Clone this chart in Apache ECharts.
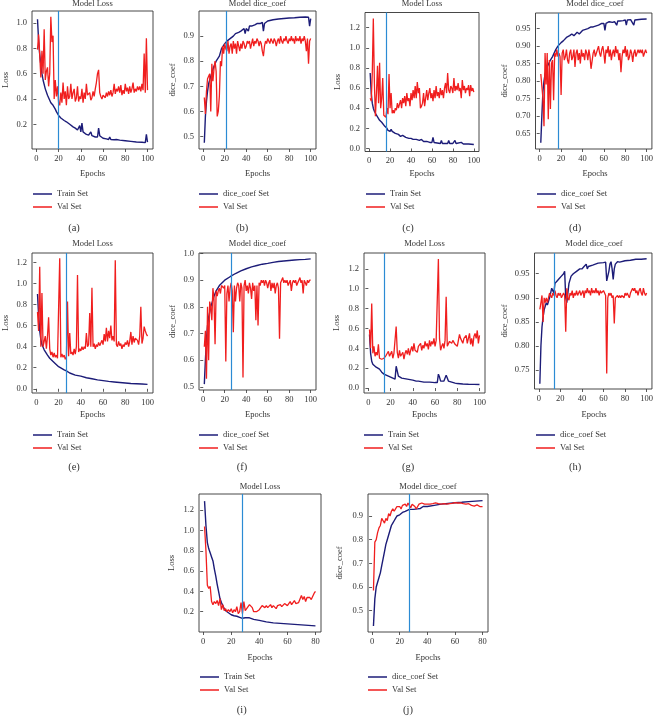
<!DOCTYPE html>
<html><head><meta charset="utf-8">
<script src="https://cdn.jsdelivr.net/npm/echarts@6/dist/echarts.min.js"></script>
<style>html,body{margin:0;padding:0;background:#fff}#c{width:656px;height:716px}</style>
</head><body><div id="c"></div>
<script>
// ---------- DATA ----------
const trainA = [[1,1.03],[2,0.86],[3,0.75],[4,0.67],[5,0.6],[6,0.55],[8,0.48],[10,0.43],[12,0.39],[13,0.37],[15,0.35],[17,0.32],[18,0.3],[20,0.27],[22,0.25],[25,0.23],[27,0.22],[28,0.21],[30,0.2],[33,0.18],[35,0.17],[37,0.155],[38,0.15],[39,0.19],[40,0.14],[41,0.21],[42,0.14],[43,0.13],[45,0.12],[47,0.115],[48,0.11],[49,0.14],[50,0.11],[53,0.1],[55,0.1],[56,0.17],[57,0.11],[58,0.1],[60,0.09],[63,0.085],[65,0.08],[66,0.1],[67,0.08],[70,0.078],[72,0.08],[75,0.075],[80,0.07],[85,0.065],[90,0.06],[95,0.058],[98,0.055],[99,0.12],[100,0.06]];
const valA = [0.79,0.91,0.75,0.57,0.78,0.6,0.95,0.55,0.62,0.65,
0.5,0.6,1.05,0.85,0.9,0.4,0.55,0.42,0.5,0.37,
0.35,0.45,0.37,0.53,0.4,0.46,0.35,0.5,0.4,0.42,
0.52,0.4,0.45,0.48,0.38,0.41,0.5,0.38,0.42,0.4,
0.48,0.37,0.45,0.4,0.52,0.43,0.42,0.45,0.39,0.41,
0.46,0.42,0.48,0.53,0.6,0.63,0.45,0.42,0.4,0.43,
0.44,0.41,0.45,0.42,0.46,0.43,0.47,0.42,0.45,0.52,
0.44,0.48,0.46,0.5,0.45,0.51,0.43,0.47,0.44,0.52,
0.46,0.49,0.44,0.5,0.45,0.48,0.53,0.45,0.48,0.46,
0.5,0.47,0.5,0.46,0.52,0.47,0.76,0.45,0.88,0.47];

const trainB = [[1,0.475],[2,0.58],[3,0.64],[4,0.68],[5,0.71],[7,0.74],[10,0.78],[12,0.8],[15,0.82],[17,0.85],[20,0.87],[22,0.88],[25,0.89],[28,0.9],[30,0.91],[33,0.915],[35,0.92],[38,0.93],[39,0.91],[40,0.93],[42,0.92],[43,0.94],[45,0.94],[48,0.945],[50,0.95],[53,0.95],[55,0.955],[56,0.92],[57,0.95],[60,0.96],[65,0.965],[70,0.968],[75,0.97],[80,0.972],[85,0.973],[90,0.975],[95,0.976],[98,0.975],[99,0.94],[100,0.97]];
const valB = [0.655,0.59,0.68,0.73,0.74,0.75,0.6,0.79,0.72,0.77,
0.8,0.76,0.58,0.6,0.66,0.8,0.78,0.86,0.83,0.87,
0.85,0.84,0.88,0.83,0.86,0.87,0.83,0.88,0.85,0.87,
0.83,0.88,0.86,0.84,0.87,0.85,0.88,0.87,0.85,0.86,
0.88,0.87,0.88,0.85,0.87,0.89,0.86,0.88,0.87,0.89,
0.88,0.86,0.88,0.87,0.84,0.82,0.86,0.88,0.87,0.89,
0.88,0.87,0.89,0.88,0.87,0.89,0.88,0.86,0.88,0.89,
0.87,0.9,0.88,0.87,0.89,0.88,0.9,0.88,0.87,0.89,
0.88,0.9,0.88,0.89,0.87,0.9,0.88,0.89,0.88,0.9,
0.87,0.89,0.88,0.9,0.88,0.84,0.89,0.79,0.88,0.89];

const trainC = [[1,0.75],[2,0.55],[3,0.45],[4,0.4],[5,0.37],[7,0.33],[10,0.28],[12,0.26],[15,0.22],[17,0.2],[18,0.18],[20,0.17],[21,0.19],[22,0.17],[25,0.15],[28,0.14],[30,0.12],[32,0.13],[35,0.11],[38,0.1],[40,0.1],[42,0.09],[45,0.09],[48,0.08],[50,0.09],[52,0.07],[55,0.07],[58,0.06],[60,0.06],[61,0.11],[62,0.06],[65,0.055],[68,0.05],[69,0.08],[70,0.05],[75,0.05],[76,0.08],[77,0.05],[80,0.05],[82,0.08],[83,0.05],[88,0.06],[90,0.045],[95,0.045],[100,0.04]];
const valC = [0.5,0.47,0.75,1.29,0.65,0.32,0.55,0.82,0.45,0.85,
0.4,0.5,0.7,0.33,0.32,0.31,0.4,0.34,0.74,0.4,
0.55,0.35,0.38,0.35,0.4,0.38,0.45,0.4,0.44,0.48,
0.4,0.5,0.45,0.52,0.42,0.55,0.47,0.5,0.42,0.55,
0.48,0.58,0.5,0.62,0.5,0.66,0.55,0.6,0.4,0.42,
0.45,0.55,0.42,0.5,0.58,0.48,0.55,0.6,0.5,0.55,
0.47,0.58,0.5,0.62,0.52,0.56,0.5,0.6,0.53,0.58,
0.5,0.6,0.65,0.55,0.75,0.58,0.55,0.62,0.6,0.55,
0.7,0.57,0.62,0.58,0.65,0.57,0.6,0.5,0.68,0.58,
0.62,0.55,0.6,0.58,0.63,0.52,0.63,0.57,0.6,0.56];

const trainD = [[1,0.623],[2,0.7],[3,0.77],[4,0.8],[5,0.82],[7,0.84],[10,0.86],[12,0.87],[15,0.89],[17,0.9],[20,0.91],[22,0.915],[23,0.91],[25,0.925],[28,0.93],[30,0.935],[32,0.93],[35,0.94],[37,0.935],[40,0.945],[45,0.95],[48,0.955],[50,0.955],[55,0.96],[58,0.965],[60,0.965],[61,0.945],[62,0.965],[65,0.97],[68,0.968],[70,0.97],[72,0.96],[73,0.972],[75,0.972],[78,0.973],[80,0.975],[81,0.96],[82,0.975],[85,0.976],[88,0.96],[89,0.975],[90,0.976],[95,0.977],[100,0.978]];
const valD = [0.82,0.82,0.75,0.67,0.88,0.79,0.88,0.69,0.86,0.72,
0.85,0.86,0.745,0.88,0.87,0.89,0.87,0.88,0.87,0.76,
0.88,0.89,0.86,0.87,0.89,0.86,0.85,0.88,0.89,0.86,
0.87,0.89,0.84,0.88,0.89,0.86,0.88,0.85,0.89,0.87,
0.88,0.86,0.89,0.88,0.86,0.89,0.87,0.835,0.84,0.88,
0.89,0.87,0.88,0.89,0.9,0.88,0.87,0.89,0.9,0.88,
0.85,0.89,0.88,0.9,0.87,0.89,0.86,0.88,0.89,0.87,
0.9,0.88,0.89,0.86,0.88,0.825,0.87,0.89,0.88,0.9,
0.87,0.89,0.86,0.87,0.89,0.88,0.855,0.88,0.89,0.87,
0.88,0.89,0.88,0.89,0.88,0.89,0.87,0.88,0.89,0.88];

const trainE = [[1,0.9],[2,0.7],[3,0.55],[4,0.47],[5,0.42],[7,0.37],[10,0.32],[12,0.29],[15,0.26],[20,0.21],[25,0.18],[27,0.17],[30,0.15],[35,0.13],[40,0.12],[45,0.105],[50,0.095],[55,0.085],[60,0.078],[65,0.07],[70,0.065],[75,0.06],[80,0.055],[85,0.05],[90,0.048],[95,0.045],[100,0.042]];
const valE = [0.73,0.55,1.16,0.4,0.91,0.4,0.45,0.5,0.38,0.5,
0.68,0.38,0.32,0.35,0.3,0.34,0.3,0.32,0.29,0.3,
1.24,0.3,0.33,0.3,0.32,0.28,0.3,0.83,0.31,0.53,
0.33,0.35,0.32,0.38,0.33,0.4,1.08,0.35,0.38,0.36,
0.4,0.37,0.4,0.38,0.53,0.4,0.42,0.72,0.4,0.96,
0.4,0.43,0.38,0.42,0.4,0.44,0.41,0.4,0.46,0.42,
0.52,0.45,0.58,0.45,0.55,0.48,0.6,0.46,0.5,0.45,
1.22,0.42,0.4,0.45,0.41,0.43,0.38,0.42,0.4,0.44,
0.42,0.46,0.4,0.45,0.54,0.42,0.5,0.44,0.48,0.47,
0.46,0.42,0.5,0.78,0.43,0.48,0.59,0.55,0.52,0.5];

const trainF = [[1,0.51],[2,0.6],[3,0.68],[4,0.73],[5,0.76],[7,0.8],[10,0.84],[12,0.86],[15,0.88],[20,0.9],[25,0.913],[30,0.925],[35,0.935],[40,0.943],[45,0.95],[50,0.955],[55,0.96],[60,0.963],[65,0.967],[70,0.97],[75,0.972],[80,0.974],[85,0.976],[90,0.977],[95,0.978],[100,0.98]];
const valF = [0.65,0.71,0.53,0.8,0.6,0.82,0.8,0.75,0.87,0.83,
0.66,0.86,0.84,0.86,0.87,0.85,0.88,0.88,0.87,0.88,
0.595,0.85,0.88,0.82,0.87,0.89,0.86,0.705,0.88,0.82,
0.87,0.89,0.88,0.82,0.89,0.87,0.535,0.88,0.9,0.86,
0.88,0.85,0.89,0.87,0.83,0.89,0.86,0.88,0.75,0.88,
0.73,0.89,0.88,0.9,0.89,0.9,0.88,0.9,0.89,0.87,
0.89,0.9,0.86,0.89,0.87,0.89,0.85,0.88,0.89,0.87,
0.68,0.89,0.9,0.91,0.89,0.9,0.89,0.9,0.88,0.89,
0.9,0.86,0.89,0.9,0.89,0.9,0.88,0.89,0.9,0.91,
0.89,0.9,0.85,0.9,0.89,0.88,0.9,0.89,0.9,0.9];

const trainG = [[1,0.54],[2,0.35],[3,0.27],[4,0.24],[5,0.22],[7,0.21],[8,0.22],[10,0.19],[12,0.16],[14,0.14],[16,0.13],[18,0.12],[20,0.11],[22,0.1],[24,0.09],[25,0.22],[26,0.17],[27,0.12],[30,0.1],[35,0.09],[40,0.08],[43,0.07],[44,0.09],[45,0.07],[50,0.06],[55,0.06],[60,0.055],[62,0.055],[63,0.14],[64,0.11],[65,0.07],[68,0.07],[70,0.13],[71,0.1],[72,0.07],[75,0.06],[76,0.07],[78,0.05],[80,0.045],[85,0.04],[90,0.038],[95,0.037],[100,0.035]];
const valG = [0.59,0.4,0.85,0.35,0.42,0.32,0.36,0.33,0.44,0.3,
0.28,0.29,0.28,0.3,0.29,0.33,0.31,0.37,0.32,0.33,
0.37,0.3,0.35,0.36,0.62,0.36,0.3,0.38,0.32,0.31,
0.36,0.29,0.35,0.38,0.34,0.4,0.33,0.38,0.42,0.37,
0.45,0.38,0.4,0.36,0.42,0.4,0.45,0.38,0.43,0.4,
0.47,0.42,0.45,0.39,0.48,0.42,0.47,0.44,0.5,0.42,
0.48,0.5,1.3,0.5,0.38,0.42,0.45,0.4,0.48,0.92,
0.42,0.4,0.47,0.48,0.45,0.48,0.46,0.44,0.45,0.42,
0.48,0.54,0.5,0.52,0.45,0.5,0.48,0.53,0.45,0.5,
0.55,0.44,0.5,0.42,0.52,0.55,0.5,0.58,0.45,0.53];

const trainH = [[1,0.722],[2,0.8],[3,0.84],[4,0.86],[5,0.875],[7,0.89],[8,0.885],[10,0.9],[11,0.91],[12,0.92],[13,0.915],[14,0.91],[15,0.93],[17,0.935],[19,0.94],[20,0.94],[21,0.945],[23,0.95],[24,0.955],[25,0.9],[26,0.89],[27,0.91],[28,0.93],[30,0.945],[32,0.95],[35,0.955],[38,0.96],[40,0.96],[42,0.965],[44,0.97],[45,0.96],[46,0.965],[50,0.968],[55,0.972],[60,0.973],[62,0.974],[63,0.935],[64,0.935],[65,0.955],[66,0.97],[67,0.975],[68,0.96],[69,0.938],[70,0.96],[71,0.97],[73,0.975],[75,0.974],[80,0.977],[85,0.978],[90,0.98],[95,0.98],[100,0.981]];
const valH = [0.876,0.89,0.905,0.85,0.9,0.89,0.9,0.89,0.9,0.91,
0.905,0.9,0.91,0.905,0.915,0.905,0.9,0.91,0.905,0.91,
0.9,0.905,0.91,0.905,0.83,0.92,0.9,0.895,0.91,0.905,
0.915,0.9,0.91,0.905,0.915,0.905,0.91,0.915,0.905,0.91,
0.915,0.9,0.915,0.91,0.92,0.91,0.915,0.905,0.92,0.91,
0.915,0.91,0.92,0.91,0.915,0.905,0.915,0.91,0.91,0.915,
0.91,0.905,0.743,0.9,0.91,0.905,0.91,0.9,0.905,0.847,
0.9,0.9,0.905,0.9,0.905,0.9,0.905,0.905,0.9,0.91,
0.905,0.91,0.905,0.9,0.91,0.915,0.92,0.915,0.92,0.91,
0.915,0.905,0.915,0.92,0.91,0.905,0.92,0.91,0.905,0.91];

const trainI = [[1,1.29],[2,1.05],[3,0.88],[4,0.82],[5,0.78],[6,0.74],[7,0.7],[8,0.62],[9,0.55],[10,0.47],[11,0.4],[12,0.33],[13,0.29],[14,0.26],[15,0.23],[16,0.21],[18,0.19],[20,0.17],[22,0.16],[24,0.155],[26,0.145],[28,0.135],[30,0.14],[31,0.13],[33,0.14],[34,0.14],[36,0.125],[38,0.12],[40,0.115],[45,0.1],[50,0.09],[55,0.085],[60,0.08],[65,0.075],[70,0.07],[75,0.065],[80,0.06]];
const valI = [1.04,0.8,0.46,0.43,0.45,0.3,0.27,0.3,0.28,0.31,
0.26,0.33,0.22,0.27,0.21,0.23,0.2,0.22,0.2,0.23,
0.19,0.22,0.2,0.25,0.18,0.2,0.29,0.18,0.3,0.21,
0.22,0.25,0.27,0.28,0.24,0.2,0.19,0.2,0.21,0.22,
0.24,0.26,0.25,0.24,0.26,0.24,0.25,0.27,0.24,0.26,
0.25,0.23,0.26,0.25,0.27,0.25,0.26,0.28,0.27,0.26,
0.28,0.3,0.27,0.29,0.31,0.28,0.27,0.29,0.3,0.36,
0.32,0.35,0.3,0.34,0.33,0.34,0.32,0.33,0.38,0.4];

const trainJ = [[1,0.435],[2,0.55],[3,0.6],[4,0.62],[5,0.64],[6,0.66],[7,0.69],[8,0.72],[9,0.75],[10,0.78],[11,0.8],[12,0.82],[13,0.84],[14,0.86],[15,0.87],[16,0.88],[17,0.89],[18,0.9],[20,0.905],[22,0.915],[24,0.92],[25,0.925],[27,0.928],[30,0.928],[33,0.93],[35,0.932],[37,0.94],[40,0.94],[45,0.945],[50,0.95],[55,0.953],[60,0.956],[65,0.958],[70,0.961],[75,0.963],[80,0.965]];
const valJ = [0.585,0.79,0.8,0.83,0.85,0.86,0.89,0.88,0.87,0.89,
0.88,0.91,0.9,0.92,0.93,0.92,0.93,0.94,0.935,0.94,
0.93,0.945,0.94,0.95,0.94,0.955,0.945,0.935,0.95,0.945,
0.94,0.93,0.94,0.95,0.955,0.955,0.952,0.95,0.945,0.95,
0.945,0.95,0.948,0.952,0.95,0.955,0.95,0.952,0.955,0.95,
0.955,0.952,0.955,0.95,0.958,0.952,0.955,0.953,0.955,0.957,
0.952,0.955,0.95,0.955,0.958,0.952,0.955,0.95,0.947,0.952,
0.948,0.945,0.95,0.942,0.945,0.947,0.943,0.94,0.945,0.94];

// best-epoch markers (vertical lines)
const bestEpochs = [20, 21, 16, 17, 27, 26, 14, 14, 28, 27];
// tick labels
const xTicks100 = [0, 20, 40, 60, 80, 100];
const xTicks80 = [0, 20, 40, 60, 80];
const yTicksA = [0.2, 0.4, 0.6, 0.8, 1.0];
const yTicksB = [0.5, 0.6, 0.7, 0.8, 0.9];
const yTicksC = [0.0, 0.2, 0.4, 0.6, 0.8, 1.0, 1.2];
const yTicksD = [0.65, 0.70, 0.75, 0.80, 0.85, 0.90, 0.95];
const yTicksE = [0.0, 0.2, 0.4, 0.6, 0.8, 1.0, 1.2];
const yTicksF = [0.5, 0.6, 0.7, 0.8, 0.9, 1.0];
const yTicksG = [0.0, 0.2, 0.4, 0.6, 0.8, 1.0, 1.2];
const yTicksH = [0.75, 0.80, 0.85, 0.90, 0.95];
const yTicksI = [0.2, 0.4, 0.6, 0.8, 1.0, 1.2];
const yTicksJ = [0.5, 0.6, 0.7, 0.8, 0.9];
const subLabels = ['(a)','(b)','(c)','(d)','(e)','(f)','(g)','(h)','(i)','(j)'];

// ---------- PANEL SPEC ----------
const LOSS = {title:'Model Loss', yName:'Loss', names:['Train Set','Val Set']};
const DICE = {title:'Model dice_coef', yName:'dice_coef', names:['dice_coef Set','Val Set']};
const panels = [
 {kind:LOSS, train:trainA, val:valA, yT:yTicksA, dec:1, yr:[0.005,1.095], xT:xTicks100, xr:[-3.95,104.95], g:[32,11,121,138], yn:5.5, sub:74, row:0, lg:33},
 {kind:DICE, train:trainB, val:valB, yT:yTicksB, dec:1, yr:[0.45,1.0], xT:xTicks100, xr:[-3.95,104.95], g:[199,11,117,138], yn:173, sub:242, row:0, lg:199},
 {kind:LOSS, train:trainC, val:valC, yT:yTicksC, dec:1, yr:[-0.03,1.35], xT:xTicks100, xr:[-3.95,104.95], g:[365,12.5,114,139], yn:337.5, sub:408, row:0, lg:366},
 {kind:DICE, train:trainD, val:valD, yT:yTicksD, dec:2, yr:[0.605,0.995], xT:xTicks100, xr:[-3.95,104.95], g:[535.5,13,119,136], yn:505, sub:575, row:0, lg:537},
 {kind:LOSS, train:trainE, val:valE, yT:yTicksE, dec:1, yr:[-0.04,1.29], xT:xTicks100, xr:[-3.95,104.95], g:[32,253,121,140], yn:5.5, sub:74, row:1, lg:33},
 {kind:DICE, train:trainF, val:valF, yT:yTicksF, dec:1, yr:[0.488,1.002], xT:xTicks100, xr:[-3.95,104.95], g:[199,253,117,137], yn:173, sub:242, row:1, lg:199},
 {kind:LOSS, train:trainG, val:valG, yT:yTicksG, dec:1, yr:[-0.05,1.36], xT:xTicks100, xr:[-3.95,104.95], g:[364,253,121,140], yn:337, sub:408, row:1, lg:364},
 {kind:DICE, train:trainH, val:valH, yT:yTicksH, dec:2, yr:[0.711,0.993], xT:xTicks100, xr:[-3.95,104.95], g:[534.5,253,119,136], yn:505, sub:575, row:1, lg:536},
 {kind:LOSS, train:trainI, val:valI, yT:yTicksI, dec:1, yr:[0.0,1.36], xT:xTicks80, xr:[-2.95,83.95], g:[199,494,122,138], yn:171.7, sub:241.7, row:2, lg:200},
 {kind:DICE, train:trainJ, val:valJ, yT:yTicksJ, dec:1, yr:[0.41,0.993], xT:xTicks80, xr:[-2.95,83.95], g:[368,494,120,138], yn:340, sub:408, row:2, lg:368}
];
const rows = [
 {title:3.5, epochs:174, leg:194, sub:228},
 {title:244, epochs:415, leg:435, sub:467},
 {title:487, epochs:658, leg:677, sub:710}
];

const FONT = '"Liberation Serif","DejaVu Serif",serif';
const TXT = '#333';
const NAVY = '#1c1c78';
const RED = '#f01e1e';
const VLINE = '#2b8bd4';

const grid = [], xAxis = [], yAxis = [], series = [], legend = [], graphic = [];
function txt(x, y, s, size, rot) {
  graphic.push({type:'text', x:x, y:y, rotation: rot || 0, silent:true,
    style:{text:s, fill:TXT, font: size + 'px ' + FONT, textAlign:'center', textVerticalAlign:'middle', align:'center', verticalAlign:'middle'}});
}
panels.forEach((p, i) => {
  const [l, t, w, h] = p.g;
  const r = rows[p.row];
  grid.push({left:l, top:t, width:w, height:h, show:true, borderColor:'#333', borderWidth:0.9, backgroundColor:'transparent'});
  xAxis.push({type:'value', gridIndex:i, min:p.xr[0], max:p.xr[1],
    axisLine:{show:false}, splitLine:{show:false},
    axisTick:{show:true, length:3, customValues:p.xT, lineStyle:{color:'#333', width:0.8}},
    axisLabel:{customValues:p.xT, margin:5, fontSize:8.5, fontFamily:FONT, color:TXT, formatter: v => String(v)}});
  yAxis.push({type:'value', gridIndex:i, min:p.yr[0], max:p.yr[1],
    axisLine:{show:false}, splitLine:{show:false},
    axisTick:{show:true, length:3, customValues:p.yT, lineStyle:{color:'#333', width:0.8}},
    axisLabel:{customValues:p.yT, margin:5, fontSize:8.5, fontFamily:FONT, color:TXT, formatter: v => v.toFixed(p.dec)}});
  series.push({type:'line', name:p.kind.names[0], xAxisIndex:i, yAxisIndex:i, data:p.train,
    symbol:'none', showSymbol:false, lineStyle:{color:NAVY, width:1.4}, itemStyle:{color:NAVY}, animation:false, z:2});
  series.push({type:'line', name:p.kind.names[1], xAxisIndex:i, yAxisIndex:i,
    data:p.val.map((v, k) => [k + 1, v]),
    symbol:'none', showSymbol:false, lineStyle:{color:RED, width:1.3}, itemStyle:{color:RED}, animation:false, z:3,
    markLine:{silent:true, symbol:['none','none'], animation:false, label:{show:false},
      lineStyle:{color:VLINE, type:'solid', width:1.2}, data:[{xAxis:bestEpochs[i]}]}});
  legend.push({orient:'vertical', left:p.lg, top:r.leg - 5.5, padding:0, itemGap:2, itemWidth:19, itemHeight:1.5,
    icon:'rect', selectedMode:false, data:p.kind.names,
    textStyle:{fontFamily:FONT, fontSize:8.5, color:TXT, lineHeight:11}});
  const cx = l + w / 2;
  txt(cx, r.title, p.kind.title, 8.5);
  txt(cx, r.epochs, 'Epochs', 8.5);
  txt(p.yn, t + h / 2, p.kind.yName, 8.5, Math.PI / 2);
  txt(p.sub, r.sub, subLabels[i], 10.5);
});

const chart = echarts.init(document.getElementById('c'), null, {renderer:'canvas'});
chart.setOption({animation:false, backgroundColor:'#fff', grid, xAxis, yAxis, series, legend, graphic});
</script></body></html>
